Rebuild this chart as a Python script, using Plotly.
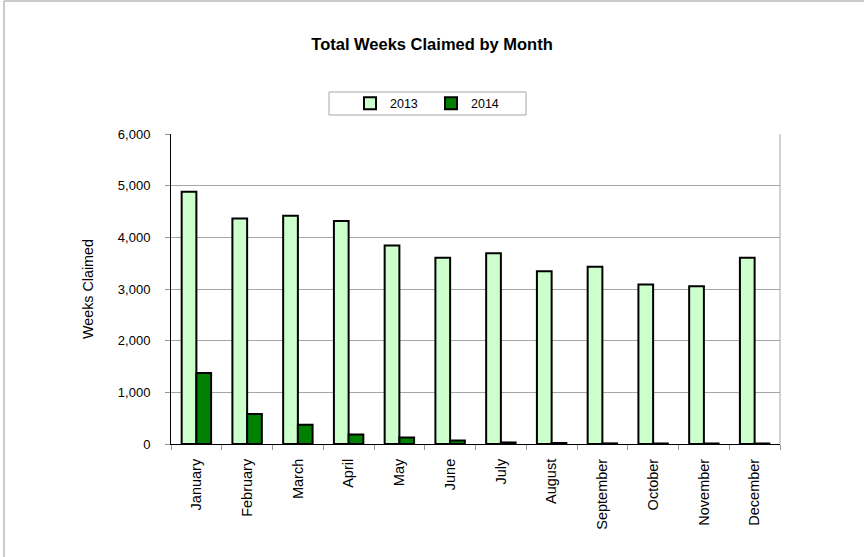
import plotly.graph_objects as go

months = ["January", "February", "March", "April", "May", "June", "July",
          "August", "September", "October", "November", "December"]
weeks_2013 = [4884, 4366, 4419, 4314, 3843, 3605, 3694, 3345, 3430, 3087, 3054, 3605]
weeks_2014 = [1376, 581, 374, 186, 128, 70, 30, 20, 12, 10, 10, 10]
y_ticks = [0, 1000, 2000, 3000, 4000, 5000, 6000]

W, H = 864, 557
L, R, T, B = 171, 780, 134, 444

def px_x(p):
    return (p - L) / (R - L)

def px_y(p):
    return (B - p) / (B - T)

FONT = "Liberation Sans, Arial, sans-serif"

fig = go.Figure()
fig.add_trace(go.Bar(x=months, y=weeks_2013, name="2013",
                     marker=dict(color="#ccffcc", line=dict(color="black", width=2))))
fig.add_trace(go.Bar(x=months, y=weeks_2014, name="2014",
                     marker=dict(color="#008000", line=dict(color="black", width=2))))

fig.update_layout(
    width=W, height=H,
    margin=dict(l=L, r=W - R, t=T, b=H - B, autoexpand=False),
    paper_bgcolor="white", plot_bgcolor="white",
    font=dict(family=FONT, size=13, color="black"),
    barmode="group", bargap=0.42, bargroupgap=0,
    title=dict(text="<b>Total Weeks Claimed by Month</b>", x=0.5, xanchor="center",
               xref="container", y=1 - 44 / H, yanchor="middle", yref="container",
               font=dict(family=FONT, size=16.5)),
    legend=dict(orientation="h", xref="paper", yref="paper",
                x=px_x(350), xanchor="left", y=px_y(103.5), yanchor="middle",
                entrywidth=36, itemwidth=30,
                font=dict(family=FONT, size=12.5),
                bgcolor="rgba(0,0,0,0)", borderwidth=0),
    showlegend=True,
)

fig.update_xaxes(showline=True, linecolor="black", linewidth=1,
                 ticks="outside", tickson="boundaries", ticklen=5, tickcolor="#999999",
                 tickangle=-90, ticklabelstandoff=8, showgrid=False,
                 tickfont=dict(family=FONT, size=14.5))
fig.update_yaxes(range=[0, 6000], tickvals=y_ticks, tickformat=",d",
                 showline=True, linecolor="black", linewidth=1,
                 ticks="outside", ticklen=5, tickcolor="#999999", ticklabelstandoff=12,
                 gridcolor="#a6a6a6", gridwidth=1, zeroline=False,
                 tickfont=dict(family=FONT, size=13),
                 title=dict(text="Weeks Claimed", standoff=20, font=dict(family=FONT, size=14.3)))

# chart frame, plot right border, legend box
fig.add_shape(type="rect", xref="paper", yref="paper",
              x0=px_x(4), x1=px_x(1000), y0=px_y(700), y1=px_y(1),
              line=dict(color="#999999", width=1), fillcolor="rgba(0,0,0,0)", layer="below")
fig.add_shape(type="line", xref="paper", yref="paper", x0=1, x1=1, y0=0, y1=1,
              line=dict(color="#a6a6a6", width=1))
fig.add_shape(type="rect", xref="paper", yref="paper",
              x0=px_x(329), x1=px_x(526), y0=px_y(115), y1=px_y(92),
              line=dict(color="#a6a6a6", width=1), fillcolor="rgba(0,0,0,0)")

fig.write_html("out.html", config={"displayModeBar": False},
               post_script="document.body.style.margin='0';")
